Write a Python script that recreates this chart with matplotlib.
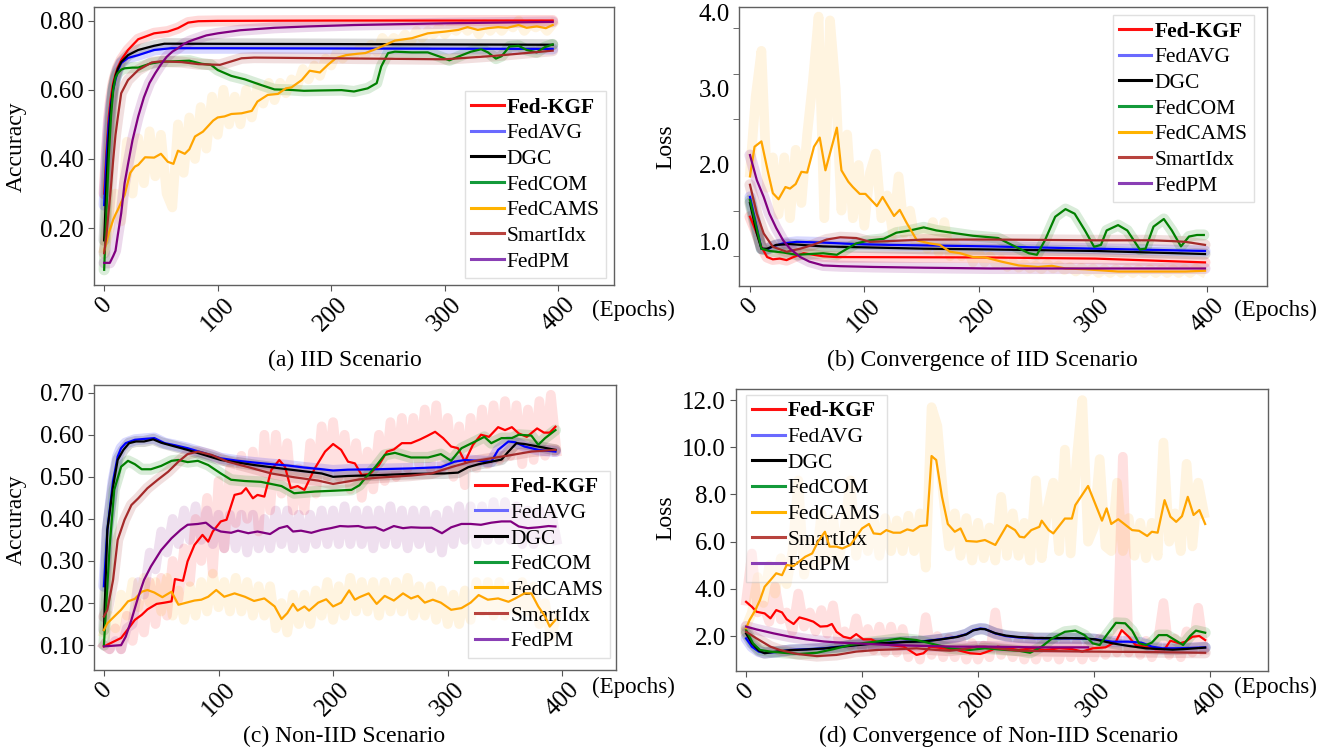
import matplotlib
matplotlib.use('Agg')
from matplotlib import pyplot as plt
from matplotlib.lines import Line2D

plt.rcParams['font.family'] = ['Liberation Serif', 'DejaVu Serif']
plt.rcParams['mathtext.fontset'] = 'stix'

NAMES = ['Fed-KGF', 'FedAVG', 'DGC', 'FedCOM', 'FedCAMS', 'SmartIdx', 'FedPM']
COLORS = ['red', 'blue', 'black', 'green', 'orange', 'brown', 'purple']
LEG_COLORS = ['#ff1010', '#6a6aff', '#000000', '#139a3a', '#ffb300', '#b8433e', '#8a3fb5']
RAW_EP = list(range(0, 400, 5))

# ---------------- (a) IID accuracy ----------------
A_KGF_X = [0, 2, 4, 6, 8, 10, 12, 15, 21, 30, 44, 56, 65, 74, 83, 100, 200, 300, 395]
A_KGF_Y = [0.30, 0.42, 0.52, 0.58, 0.62, 0.645, 0.665, 0.686, 0.715, 0.746, 0.763, 0.768, 0.778, 0.794,
           0.798, 0.799, 0.80, 0.80, 0.80]
A_AVG_X = [0, 2, 4, 6, 8, 10, 12, 15, 21, 30, 44, 59, 100, 395]
A_AVG_Y = [0.267, 0.40, 0.50, 0.56, 0.60, 0.63, 0.655, 0.677, 0.692, 0.70, 0.715, 0.72, 0.72, 0.718]
A_DGC_X = [0, 2, 4, 6, 8, 10, 12, 15, 21, 30, 44, 53, 60, 200, 395]
A_DGC_Y = [0.165, 0.33, 0.46, 0.55, 0.61, 0.64, 0.66, 0.68, 0.70, 0.715, 0.727, 0.733, 0.733, 0.732, 0.730]
A_COM_X = [0, 2, 4, 6, 8, 10, 12, 15, 18, 25, 30, 40, 50, 60, 75, 86, 94, 100, 112, 124, 138, 150, 162,
           176, 191, 209, 220, 232, 240, 244, 250, 256, 271, 285, 297, 304, 312, 323, 332, 338, 345, 350,
           357, 365, 372, 381, 388, 395]
A_COM_Y = [0.08, 0.25, 0.40, 0.52, 0.60, 0.635, 0.648, 0.658, 0.662, 0.664, 0.664, 0.675, 0.681, 0.682,
           0.684, 0.675, 0.672, 0.657, 0.64, 0.63, 0.614, 0.601, 0.60, 0.597, 0.598, 0.599, 0.595, 0.604,
           0.619, 0.667, 0.706, 0.71, 0.708, 0.708, 0.694, 0.685, 0.696, 0.71, 0.717, 0.708, 0.69, 0.697,
           0.725, 0.727, 0.715, 0.708, 0.723, 0.731]
A_CAMS_X = [0, 2, 4, 6, 8, 10, 12, 15, 18, 23, 27, 30, 36, 44, 50, 56, 61, 65, 71, 75, 80, 87, 96, 100,
            106, 112, 121, 130, 135, 144, 153, 160, 165, 174, 181, 190, 197, 204, 213, 223, 230, 241, 256,
            271, 285, 300, 312, 320, 329, 338, 347, 355, 365, 372, 381, 389, 395]
A_CAMS_Y = [0.135, 0.16, 0.185, 0.205, 0.225, 0.24, 0.253, 0.275, 0.296, 0.36, 0.378, 0.383, 0.405, 0.404,
            0.415, 0.392, 0.386, 0.424, 0.415, 0.428, 0.465, 0.479, 0.511, 0.52, 0.523, 0.53, 0.532, 0.539,
            0.566, 0.585, 0.588, 0.604, 0.607, 0.628, 0.655, 0.65, 0.672, 0.691, 0.70, 0.704, 0.706, 0.72,
            0.742, 0.749, 0.763, 0.768, 0.773, 0.781, 0.773, 0.778, 0.781, 0.779, 0.787, 0.779, 0.783,
            0.778, 0.787]
A_CAMS_RAW = [0.14, 0.20, 0.30, 0.22, 0.45, 0.30, 0.46, 0.33, 0.48, 0.35, 0.47, 0.30, 0.26, 0.50, 0.36,
              0.52, 0.40, 0.55, 0.43, 0.58, 0.47, 0.60, 0.50, 0.58, 0.50, 0.60, 0.52, 0.61, 0.56, 0.62,
              0.57, 0.62, 0.59, 0.63, 0.61, 0.66, 0.63, 0.67, 0.64, 0.69, 0.67, 0.71, 0.69, 0.71, 0.70,
              0.72, 0.70, 0.73, 0.71, 0.75, 0.73, 0.75, 0.74, 0.76, 0.74, 0.77, 0.75, 0.77, 0.76, 0.78,
              0.76, 0.78, 0.77, 0.79, 0.77, 0.79, 0.76, 0.79, 0.77, 0.79, 0.77, 0.79, 0.78, 0.80, 0.77,
              0.79, 0.78, 0.79, 0.77, 0.79]
A_SMART_X = [0, 2, 4, 6, 8, 10, 12, 15, 21, 30, 42, 50, 68, 83, 102, 112, 121, 132, 300, 344, 395]
A_SMART_Y = [0.128, 0.18, 0.25, 0.32, 0.40, 0.47, 0.52, 0.59, 0.628, 0.657, 0.679, 0.682, 0.68, 0.674,
             0.672, 0.682, 0.691, 0.693, 0.688, 0.698, 0.713]
A_PM_X = [0, 5, 8, 10, 12, 15, 18, 21, 25, 30, 35, 40, 45, 50, 55, 60, 65, 70, 75, 80, 90, 100, 120, 150,
          180, 220, 300, 395]
A_PM_Y = [0.10, 0.10, 0.12, 0.135, 0.18, 0.243, 0.33, 0.385, 0.455, 0.523, 0.578, 0.62, 0.648, 0.673,
          0.695, 0.71, 0.72, 0.732, 0.74, 0.746, 0.757, 0.763, 0.772, 0.779, 0.783, 0.787, 0.792, 0.796]

# ---------------- (b) IID loss ----------------
B_KGF_X = [0, 6, 10, 15, 20, 26, 32, 38, 47, 64, 76, 205, 302, 398]
B_KGF_Y = [1.32, 1.10, 0.925, 0.79, 0.76, 0.77, 0.75, 0.79, 0.84, 0.80, 0.79, 0.785, 0.77, 0.72]
B_AVG_X = [0, 10, 15, 20, 29, 41, 64, 93, 122, 210, 302, 398]
B_AVG_Y = [1.58, 0.90, 0.89, 0.93, 0.97, 0.99, 0.98, 0.96, 0.95, 0.93, 0.90, 0.87]
B_DGC_X = [0, 6, 10, 15, 23, 35, 64, 93, 152, 210, 302, 398]
B_DGC_Y = [1.50, 1.10, 0.90, 0.90, 0.95, 0.96, 0.93, 0.92, 0.90, 0.89, 0.87, 0.83]
B_COM_X = [0, 10, 17, 29, 41, 52, 64, 76, 85, 93, 105, 117, 128, 140, 152, 163, 181, 195, 210, 217, 229,
           244, 251, 258, 267, 276, 284, 293, 301, 307, 312, 322, 330, 341, 346, 353, 362, 369, 377, 384,
           391, 397]
B_COM_Y = [1.54, 0.90, 0.87, 0.85, 0.82, 0.83, 0.84, 0.82, 0.90, 0.97, 1.01, 1.03, 1.11, 1.14, 1.18, 1.14,
           1.10, 1.07, 1.05, 1.04, 0.95, 0.84, 0.82, 1.01, 1.32, 1.42, 1.36, 1.14, 0.925, 0.95, 1.14, 1.21,
           1.14, 0.89, 0.90, 1.19, 1.29, 1.14, 0.93, 1.06, 1.08, 1.08]
B_CAMS_X = [0, 4, 10, 16, 20, 25, 31, 35, 40, 45, 50, 56, 61, 66, 76, 80, 86, 90, 96, 101, 111, 116, 122,
            126, 131, 137, 146, 157, 166, 175, 184, 195, 206, 220, 235, 252, 264, 276, 293, 322, 352, 381,
            398]
B_CAMS_Y = [1.85, 2.24, 2.31, 1.89, 1.63, 1.55, 1.71, 1.69, 1.75, 1.91, 1.90, 2.24, 2.36, 1.93, 2.49, 1.93,
            1.78, 1.71, 1.62, 1.62, 1.46, 1.58, 1.43, 1.33, 1.41, 1.24, 1.01, 0.97, 0.95, 0.86, 0.84, 0.79,
            0.785, 0.73, 0.68, 0.66, 0.675, 0.64, 0.63, 0.60, 0.60, 0.60, 0.61]
B_CAMS_RAW = [1.9, 2.9, 3.5, 1.7, 2.1, 1.35, 2.1, 1.3, 2.2, 1.5, 2.4, 3.1, 3.95, 1.3, 3.9, 3.0, 1.4, 2.4,
              1.3, 2.0, 1.2, 1.9, 2.15, 1.3, 1.6, 1.1, 1.85, 1.1, 1.4, 0.95, 1.15, 0.9, 1.25, 0.85, 1.25,
              0.8, 0.95, 0.8, 0.9, 0.72, 0.85, 0.72, 0.8, 0.7, 0.76, 0.66, 0.72, 0.65, 0.7, 0.64, 0.68,
              0.63, 0.7, 0.64, 0.68, 0.62, 0.66, 0.6, 0.65, 0.6, 0.64, 0.58, 0.63, 0.58, 0.63, 0.58, 0.63,
              0.58, 0.63, 0.58, 0.63, 0.58, 0.63, 0.58, 0.63, 0.58, 0.63, 0.58, 0.64, 0.6]
B_SMART_X = [0, 6, 12, 20, 32, 44, 55, 67, 79, 93, 105, 122, 152, 210, 302, 352, 369, 381, 398]
B_SMART_Y = [1.74, 1.36, 1.10, 0.925, 0.86, 0.90, 0.95, 1.02, 1.05, 1.04, 0.99, 1.0, 1.02, 1.02, 1.01,
             1.01, 1.0, 0.99, 0.95]
B_PM_X = [0, 6, 12, 17, 23, 29, 35, 44, 52, 64, 79, 108, 152, 210, 302, 398]
B_PM_Y = [2.13, 1.80, 1.58, 1.36, 1.17, 1.01, 0.90, 0.79, 0.73, 0.68, 0.67, 0.66, 0.65, 0.64, 0.64, 0.64]

# ---------------- (c) Non-IID accuracy ----------------
C_KGF_X = [0, 6, 15, 21, 27, 33, 38, 46, 53, 59, 62, 69, 73, 79, 86, 91, 95, 102, 107, 114, 120, 124, 130,
           134, 140, 146, 153, 158, 163, 169, 175, 184, 193, 200, 207, 213, 219, 225, 232, 240, 247, 253,
           260, 268, 276, 282, 289, 296, 303, 309, 315, 322, 329, 336, 344, 350, 356, 362, 369, 378, 384,
           389, 394]
C_KGF_Y = [0.097, 0.105, 0.117, 0.138, 0.16, 0.172, 0.185, 0.198, 0.201, 0.204, 0.257, 0.253, 0.299, 0.338,
           0.362, 0.346, 0.37, 0.394, 0.398, 0.457, 0.461, 0.473, 0.449, 0.457, 0.453, 0.516, 0.54, 0.524,
           0.473, 0.478, 0.469, 0.52, 0.56, 0.578, 0.564, 0.536, 0.532, 0.504, 0.507, 0.528, 0.56, 0.565,
           0.58, 0.58, 0.589, 0.597, 0.607, 0.592, 0.572, 0.568, 0.536, 0.576, 0.60, 0.595, 0.618, 0.611,
           0.618, 0.603, 0.595, 0.615, 0.605, 0.605, 0.619]
C_KGF_RAW = [0.10, 0.09, 0.14, 0.09, 0.17, 0.11, 0.20, 0.13, 0.25, 0.15, 0.26, 0.17, 0.30, 0.21, 0.33,
             0.25, 0.40, 0.30, 0.45, 0.27, 0.49, 0.33, 0.52, 0.39, 0.55, 0.40, 0.56, 0.37, 0.60, 0.42,
             0.60, 0.46, 0.58, 0.42, 0.52, 0.42, 0.58, 0.46, 0.62, 0.50, 0.63, 0.50, 0.60, 0.47, 0.58,
             0.45, 0.56, 0.47, 0.60, 0.49, 0.63, 0.50, 0.64, 0.52, 0.64, 0.53, 0.66, 0.52, 0.67, 0.52,
             0.64, 0.50, 0.62, 0.48, 0.64, 0.52, 0.66, 0.53, 0.67, 0.54, 0.68, 0.55, 0.67, 0.53, 0.66,
             0.54, 0.68, 0.55, 0.695, 0.56]
C_AVG_X = [0, 3, 8, 12, 15, 19, 27, 35, 44, 53, 62, 73, 88, 102, 117, 131, 146, 160, 175, 190, 200, 213,
           239, 268, 294, 306, 315, 327, 338, 344, 353, 359, 367, 379, 394]
C_AVG_Y = [0.24, 0.374, 0.49, 0.548, 0.568, 0.58, 0.588, 0.59, 0.592, 0.58, 0.575, 0.568, 0.556, 0.544,
           0.538, 0.534, 0.53, 0.527, 0.522, 0.518, 0.515, 0.517, 0.518, 0.52, 0.523, 0.536, 0.54, 0.538,
           0.536, 0.564, 0.584, 0.582, 0.572, 0.564, 0.56]
C_DGC_X = [0, 3, 8, 12, 17, 22, 28, 35, 43, 50, 62, 73, 102, 131, 160, 190, 200, 213, 239, 268, 297, 309,
           318, 327, 338, 347, 353, 360, 367, 379, 394]
C_DGC_Y = [0.136, 0.374, 0.477, 0.54, 0.564, 0.58, 0.584, 0.584, 0.589, 0.581, 0.572, 0.564, 0.54, 0.528,
           0.518, 0.508, 0.50, 0.502, 0.504, 0.507, 0.508, 0.51, 0.523, 0.53, 0.536, 0.541, 0.56, 0.58,
           0.578, 0.572, 0.564]
C_COM_X = [0, 5, 9, 15, 21, 27, 33, 41, 50, 59, 65, 73, 82, 91, 102, 111, 123, 137, 155, 166, 184, 201,
           216, 223, 228, 237, 245, 254, 268, 283, 294, 303, 312, 324, 332, 338, 347, 356, 362, 373, 379,
           385, 394]
C_COM_Y = [0.10, 0.334, 0.469, 0.524, 0.538, 0.53, 0.518, 0.518, 0.526, 0.538, 0.54, 0.535, 0.538, 0.528,
           0.508, 0.493, 0.49, 0.488, 0.478, 0.461, 0.465, 0.467, 0.469, 0.48, 0.497, 0.524, 0.552, 0.557,
           0.546, 0.546, 0.554, 0.538, 0.568, 0.584, 0.595, 0.58, 0.592, 0.592, 0.60, 0.598, 0.576, 0.592,
           0.611]
C_CAMS_X = [0, 3, 9, 15, 21, 27, 33, 38, 44, 51, 59, 65, 72, 79, 85, 91, 98, 105, 114, 123, 131, 140,
            149, 155, 160, 165, 169, 175, 179, 187, 194, 200, 207, 214, 219, 223, 231, 238, 245, 253, 261,
            268, 274, 280, 287, 294, 303, 312, 320, 327, 335, 344, 353, 359, 367, 373, 379, 385, 389, 394]
C_CAMS_Y = [0.136, 0.152, 0.168, 0.184, 0.204, 0.21, 0.227, 0.231, 0.225, 0.214, 0.227, 0.196, 0.201,
            0.206, 0.208, 0.215, 0.231, 0.215, 0.223, 0.215, 0.205, 0.211, 0.192, 0.162, 0.176, 0.198,
            0.182, 0.192, 0.182, 0.201, 0.209, 0.192, 0.201, 0.230, 0.208, 0.214, 0.223, 0.198, 0.217,
            0.206, 0.223, 0.211, 0.217, 0.201, 0.208, 0.201, 0.184, 0.188, 0.201, 0.219, 0.208, 0.211,
            0.203, 0.211, 0.223, 0.223, 0.192, 0.168, 0.144, 0.16]
C_CAMS_RAW = [0.13, 0.17, 0.14, 0.22, 0.17, 0.25, 0.19, 0.26, 0.20, 0.25, 0.18, 0.26, 0.17, 0.23, 0.16,
              0.24, 0.17, 0.25, 0.18, 0.27, 0.19, 0.25, 0.18, 0.26, 0.18, 0.25, 0.17, 0.24, 0.17, 0.24,
              0.14, 0.20, 0.13, 0.22, 0.15, 0.22, 0.15, 0.23, 0.17, 0.25, 0.16, 0.24, 0.17, 0.26, 0.18,
              0.25, 0.18, 0.25, 0.17, 0.25, 0.18, 0.25, 0.18, 0.26, 0.17, 0.24, 0.17, 0.24, 0.16, 0.23,
              0.15, 0.22, 0.15, 0.23, 0.16, 0.25, 0.18, 0.25, 0.17, 0.25, 0.17, 0.24, 0.18, 0.25, 0.18,
              0.24, 0.15, 0.20, 0.12, 0.17]
C_SMART_X = [0, 3, 8, 12, 18, 24, 30, 38, 47, 56, 65, 73, 82, 94, 108, 126, 146, 166, 187, 200, 213, 223,
             239, 268, 286, 303, 320, 338, 356, 373, 394]
C_SMART_Y = [0.168, 0.184, 0.255, 0.35, 0.398, 0.433, 0.449, 0.473, 0.493, 0.512, 0.536, 0.554, 0.56,
             0.552, 0.536, 0.523, 0.508, 0.499, 0.491, 0.483, 0.489, 0.494, 0.498, 0.503, 0.508, 0.523,
             0.536, 0.544, 0.552, 0.56, 0.564]
C_PM_X = [0, 15, 19, 24, 30, 35, 41, 50, 59, 67, 73, 82, 89, 95, 102, 111, 117, 126, 134, 145, 153, 160,
          165, 172, 181, 190, 198, 206, 213, 222, 228, 237, 244, 253, 261, 268, 277, 286, 295, 303, 312,
          320, 329, 338, 347, 355, 362, 370, 379, 388, 394]
C_PM_Y = [0.097, 0.10, 0.12, 0.16, 0.215, 0.255, 0.287, 0.326, 0.354, 0.374, 0.386, 0.388, 0.391, 0.378,
          0.37, 0.367, 0.372, 0.366, 0.37, 0.364, 0.378, 0.383, 0.37, 0.372, 0.367, 0.374, 0.378, 0.383,
          0.382, 0.383, 0.379, 0.380, 0.372, 0.383, 0.378, 0.380, 0.379, 0.379, 0.366, 0.380, 0.388,
          0.388, 0.386, 0.391, 0.394, 0.394, 0.382, 0.378, 0.380, 0.383, 0.382]
C_PM_RAW = [0.10, 0.09, 0.11, 0.09, 0.14, 0.15, 0.25, 0.22, 0.32, 0.28, 0.37, 0.32, 0.40, 0.34, 0.42,
            0.35, 0.43, 0.35, 0.42, 0.34, 0.41, 0.33, 0.41, 0.33, 0.41, 0.32, 0.41, 0.33, 0.40, 0.33,
            0.42, 0.34, 0.42, 0.33, 0.41, 0.33, 0.41, 0.34, 0.42, 0.34, 0.42, 0.34, 0.43, 0.34, 0.42,
            0.34, 0.42, 0.33, 0.42, 0.34, 0.43, 0.34, 0.42, 0.33, 0.42, 0.34, 0.42, 0.33, 0.41, 0.32,
            0.42, 0.34, 0.43, 0.35, 0.43, 0.34, 0.43, 0.35, 0.44, 0.35, 0.44, 0.35, 0.43, 0.34, 0.42,
            0.34, 0.42, 0.35, 0.42, 0.35]

# ---------------- (d) Non-IID loss ----------------
D_KGF_X = [0, 5, 9, 16, 21, 26, 31, 35, 41, 46, 52, 58, 64, 70, 74, 78, 84, 90, 95, 101, 108, 115, 124,
           136, 147, 153, 159, 170, 182, 193, 202, 206, 212, 217, 226, 235, 247, 258, 270, 281, 290, 299,
           310, 319, 324, 330, 336, 345, 353, 361, 366, 374, 379, 385, 391, 396]
D_KGF_Y = [3.45, 3.24, 3.03, 2.96, 2.75, 3.10, 3.0, 2.71, 2.51, 2.79, 2.71, 2.61, 2.40, 2.42, 2.51, 2.18,
           1.97, 1.90, 2.08, 1.86, 1.86, 1.69, 1.62, 1.55, 1.20, 1.27, 1.55, 1.48, 1.41, 1.27, 1.24, 1.30,
           1.41, 1.55, 1.48, 1.41, 1.48, 1.41, 1.48, 1.45, 1.34, 1.48, 1.52, 1.76, 2.25, 1.97, 1.62, 1.55,
           1.44, 1.44, 1.80, 1.69, 1.76, 1.97, 2.0, 1.83]
D_KGF_RAW = [3.5, 5.5, 3.0, 3.3, 2.6, 4.1, 2.7, 3.0, 2.2, 3.8, 2.4, 3.0, 2.2, 3.1, 2.1, 3.3, 1.7, 2.2,
             1.6, 2.75, 1.5, 2.3, 1.4, 2.4, 1.3, 2.4, 1.3, 2.3, 1.1, 1.8, 1.0, 2.8, 1.2, 2.0, 1.1, 1.9,
             1.1, 1.9, 1.0, 1.7, 1.0, 1.6, 1.1, 3.0, 1.2, 1.8, 1.1, 1.8, 1.0, 1.9, 1.0, 1.8, 1.1, 1.7,
             1.0, 1.8, 1.1, 1.7, 1.0, 1.6, 1.1, 1.9, 1.2, 1.9, 1.3, 9.6, 1.3, 2.0, 1.2, 1.8, 1.1, 1.7,
             3.4, 1.2, 1.9, 1.1, 2.2, 1.3, 3.2, 1.4]
D_AVG_X = [0, 5, 11, 16, 26, 38, 52, 67, 81, 95, 110, 124, 138, 153, 167, 182, 190, 196, 202, 206, 215,
           224, 235, 249, 264, 281, 292, 301, 316, 330, 341, 350, 359, 371, 385, 396]
D_AVG_Y = [1.9, 1.55, 1.34, 1.29, 1.32, 1.41, 1.44, 1.48, 1.55, 1.62, 1.69, 1.72, 1.76, 1.78, 1.86, 1.97,
           2.08, 2.25, 2.32, 2.30, 2.11, 2.0, 1.94, 1.90, 1.90, 1.90, 1.89, 1.86, 1.76, 1.76, 1.72, 1.55,
           1.48, 1.48, 1.50, 1.52]
D_DGC_X = [0, 5, 11, 16, 26, 38, 52, 67, 81, 95, 110, 124, 138, 153, 167, 182, 190, 196, 202, 206, 215,
           224, 235, 249, 264, 281, 292, 301, 316, 330, 345, 356, 368, 379, 396]
D_DGC_Y = [2.11, 1.69, 1.38, 1.27, 1.34, 1.40, 1.43, 1.47, 1.54, 1.61, 1.68, 1.71, 1.75, 1.77, 1.85, 1.96,
           2.07, 2.24, 2.30, 2.29, 2.12, 2.02, 1.96, 1.92, 1.91, 1.91, 1.90, 1.86, 1.69, 1.58, 1.48, 1.45,
           1.42, 1.45, 1.51]
D_COM_X = [0, 6, 12, 21, 32, 46, 61, 75, 90, 104, 118, 133, 147, 159, 176, 193, 206, 224, 235, 245, 255,
           264, 275, 284, 292, 299, 305, 311, 319, 327, 333, 339, 345, 350, 356, 363, 371, 377, 383, 388,
           396]
D_COM_Y = [2.25, 1.69, 1.41, 1.34, 1.29, 1.24, 1.29, 1.44, 1.62, 1.72, 1.80, 1.90, 1.83, 1.69, 1.48, 1.41,
           1.48, 1.41, 1.38, 1.29, 1.55, 1.90, 2.18, 2.23, 2.04, 1.69, 1.62, 2.04, 2.56, 2.54, 2.23, 1.69,
           1.62, 1.72, 2.04, 2.04, 1.80, 1.62, 2.0, 2.23, 2.14]
D_CAMS_X = [0, 3, 8, 12, 16, 21, 26, 31, 35, 41, 51, 57, 62, 68, 72, 78, 83, 90, 95, 100, 106, 110, 116,
            121, 127, 133, 139, 144, 150, 156, 160, 164, 169, 174, 180, 185, 190, 199, 206, 215, 225, 232,
            236, 240, 246, 253, 255, 261, 265, 275, 281, 284, 295, 307, 311, 315, 321, 333, 339, 346, 350,
            355, 361, 366, 371, 376, 381, 386, 391, 396]
D_CAMS_Y = [2.33, 2.68, 3.10, 3.53, 4.09, 4.37, 4.66, 4.58, 5.01, 4.97, 5.36, 5.50, 6.0, 6.42, 5.79, 5.79,
            5.71, 5.86, 6.21, 6.56, 6.75, 6.35, 6.32, 6.49, 6.38, 6.38, 6.52, 6.46, 6.66, 6.69, 9.63, 9.46,
            7.90, 6.75, 6.42, 6.56, 6.03, 6.0, 6.07, 5.86, 6.70, 6.49, 6.21, 6.18, 6.49, 6.63, 6.89, 6.49,
            6.35, 6.98, 6.98, 7.55, 8.36, 6.89, 7.41, 6.75, 6.95, 6.49, 6.46, 6.24, 6.42, 6.38, 7.76, 7.06,
            6.84, 7.08, 7.90, 7.13, 7.34, 6.75]
D_CAMS_RAW = [2.4, 3.0, 4.5, 3.4, 5.0, 3.8, 5.3, 4.2, 5.6, 8.6, 4.6, 6.0, 5.0, 7.2, 5.2, 7.0, 5.2, 6.6,
              8.6, 5.4, 7.2, 5.6, 7.0, 5.4, 7.0, 5.6, 6.9, 5.6, 7.1, 5.6, 7.2, 4.9, 11.7, 10.9, 8.0, 5.8,
              7.2, 5.4, 7.0, 5.2, 6.8, 5.3, 6.6, 5.2, 7.9, 5.4, 7.2, 5.4, 6.8, 5.2, 8.6, 5.3, 7.4, 8.5,
              5.6, 9.9, 5.5, 9.4, 12.0, 6.0, 6.6, 9.5, 5.8, 5.6, 8.5, 5.6, 7.0, 5.4, 6.8, 5.3, 6.8, 5.4,
              10.2, 6.0, 7.2, 5.6, 9.3, 5.8, 8.5, 7.2]
D_SMART_X = [0, 9, 21, 29, 44, 61, 78, 95, 113, 130, 147, 164, 176, 187, 199, 206, 223, 235, 300, 350, 396]
D_SMART_Y = [2.18, 1.90, 1.55, 1.41, 1.24, 1.15, 1.20, 1.34, 1.41, 1.44, 1.48, 1.41, 1.38, 1.44, 1.55,
             1.55, 1.44, 1.38, 1.34, 1.32, 1.29]
D_PM_X = [0, 9, 24, 38, 52, 67, 81, 95, 124, 153, 182, 210, 250, 295]
D_PM_Y = [2.4, 2.28, 2.11, 1.97, 1.86, 1.77, 1.72, 1.69, 1.62, 1.58, 1.55, 1.55, 1.52, 1.52]

TICK_FS = 18
LABEL_FS = 17
EPOCH_FS = 16.5
LEG_FS = 15.5
CAP_FS = 17


def draw_panel(ax, series, raws):
    for name, color, (xs, ys) in zip(NAMES, COLORS, series):
        if name in raws:
            ax.plot(RAW_EP, raws[name], color=color, lw=7, alpha=0.12, zorder=1,
                    solid_joinstyle='round')
        else:
            ax.plot(xs, ys, color=color, lw=8, alpha=0.15, zorder=1, solid_capstyle='round')
    for name, color, (xs, ys) in zip(NAMES, COLORS, series):
        ax.plot(xs, ys, color=color, lw=1.6, zorder=3)


def style_panel(ax, xlim, ylim, leg_loc, leg_anchor, ylabel, ylab_xy, epochs_xy):
    ax.set_xlim(*xlim)
    ax.set_ylim(*ylim)
    ax.set_xticks([0, 100, 200, 300, 400])
    ax.tick_params(axis='x', labelrotation=45, labelsize=TICK_FS, length=4, color='#555555', pad=2)
    ax.tick_params(axis='y', labelsize=TICK_FS, length=4, color='#555555', pad=3)
    for sp in ax.spines.values():
        sp.set_color('#606060')
        sp.set_linewidth(1.0)
    ax.set_ylabel(ylabel, fontsize=LABEL_FS)
    ax.yaxis.set_label_coords(*ylab_xy)
    ax.text(epochs_xy[0], epochs_xy[1], '(Epochs)', transform=ax.transAxes, fontsize=EPOCH_FS,
            ha='left', va='center')
    handles = [Line2D([], [], color=c, lw=2.2) for c in LEG_COLORS]
    leg = ax.legend(handles, NAMES, loc=leg_loc, bbox_to_anchor=leg_anchor, borderaxespad=0,
                    fontsize=LEG_FS, handlelength=1.5, handletextpad=0.15, labelspacing=0.26,
                    borderpad=0.3, fancybox=False, framealpha=0.45, edgecolor='#bbbbbb')
    leg.get_texts()[0].set_fontweight('bold')
    leg.set_zorder(2)


fig = plt.figure(figsize=(13.25, 7.51), dpi=100)
ax_a = fig.add_axes([0.0709, 0.6205, 0.3925, 0.3706])
ax_b = fig.add_axes([0.558, 0.6192, 0.398, 0.3719])
ax_c = fig.add_axes([0.0709, 0.1079, 0.3937, 0.3799])
ax_d = fig.add_axes([0.5553, 0.1069, 0.4015, 0.3751])

draw_panel(ax_a, [(A_KGF_X, A_KGF_Y), (A_AVG_X, A_AVG_Y), (A_DGC_X, A_DGC_Y), (A_COM_X, A_COM_Y),
                  (A_CAMS_X, A_CAMS_Y), (A_SMART_X, A_SMART_Y), (A_PM_X, A_PM_Y)],
           {'FedCAMS': A_CAMS_RAW})
draw_panel(ax_b, [(B_KGF_X, B_KGF_Y), (B_AVG_X, B_AVG_Y), (B_DGC_X, B_DGC_Y), (B_COM_X, B_COM_Y),
                  (B_CAMS_X, B_CAMS_Y), (B_SMART_X, B_SMART_Y), (B_PM_X, B_PM_Y)],
           {'FedCAMS': B_CAMS_RAW})
draw_panel(ax_c, [(C_KGF_X, C_KGF_Y), (C_AVG_X, C_AVG_Y), (C_DGC_X, C_DGC_Y), (C_COM_X, C_COM_Y),
                  (C_CAMS_X, C_CAMS_Y), (C_SMART_X, C_SMART_Y), (C_PM_X, C_PM_Y)],
           {'Fed-KGF': C_KGF_RAW, 'FedCAMS': C_CAMS_RAW, 'FedPM': C_PM_RAW})
draw_panel(ax_d, [(D_KGF_X, D_KGF_Y), (D_AVG_X, D_AVG_Y), (D_DGC_X, D_DGC_Y), (D_COM_X, D_COM_Y),
                  (D_CAMS_X, D_CAMS_Y), (D_SMART_X, D_SMART_Y), (D_PM_X, D_PM_Y)],
           {'Fed-KGF': D_KGF_RAW, 'FedCAMS': D_CAMS_RAW})

style_panel(ax_a, (-9, 449), (0.036, 0.84), 'lower right', (0.985, 0.025), 'Accuracy',
            (-0.129, 0.496), (0.958, -0.09))
ax_a.set_yticks([0.2, 0.4, 0.6, 0.8])
ax_a.set_yticklabels(['0.20', '0.40', '0.60', '0.80'])

style_panel(ax_b, (-9.3, 452), (0.41, 4.08), 'upper right', (0.976, 0.970), 'Loss',
            (-0.12, 0.5), (0.938, -0.086))
ax_b.set_yticks([1.0, 2.0, 3.0, 4.0])
ax_b.set_yticklabels(['1.0', '2.0', '3.0', '4.0'])
ax_b.tick_params(axis='y', which='major', length=0, pad=7)
ax_b.set_yticks([0.8, 1.4, 2.0, 2.6, 3.2, 3.8], minor=True)
ax_b.tick_params(axis='y', which='minor', length=4, color='#555555')

style_panel(ax_c, (-8.7, 446.5), (0.041, 0.719), 'lower right', (0.989, 0.043), 'Accuracy',
            (-0.129, 0.526), (0.955, -0.06))
ax_c.set_yticks([0.1, 0.2, 0.3, 0.4, 0.5, 0.6, 0.7])
ax_c.set_yticklabels(['0.10', '0.20', '0.30', '0.40', '0.50', '0.60', '0.70'])

style_panel(ax_d, (-8.9, 450), (0.53, 12.47), 'upper left', (0.019, 0.979), 'Loss',
            (-0.112, 0.542), (0.936, -0.058))
ax_d.set_yticks([2, 4, 6, 8, 10, 12])
ax_d.set_yticklabels(['2.0', '4.0', '6.0', '8.0', '10.0', '12.0'])

fig.text(345 / 1325, 1 - 360 / 751, '(a) IID Scenario', ha='center', va='center', fontsize=CAP_FS)
fig.text(982 / 1325, 1 - 360 / 751, '(b) Convergence of IID Scenario', ha='center', va='center',
         fontsize=CAP_FS)
fig.text(344 / 1325, 1 - 736 / 751, '(c) Non-IID Scenario', ha='center', va='center', fontsize=CAP_FS)
fig.text(999 / 1325, 1 - 736 / 751, '(d) Convergence of Non-IID Scenario', ha='center', va='center',
         fontsize=CAP_FS)

fig.savefig('out.png', dpi=100)
